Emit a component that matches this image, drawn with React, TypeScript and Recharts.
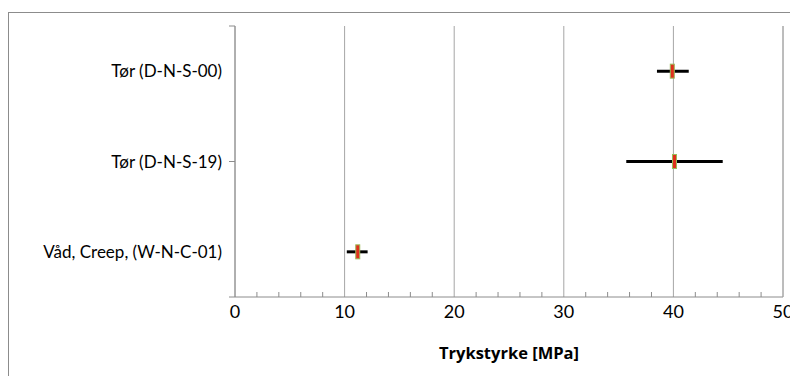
import React from "react";
import {
  ComposedChart,
  Scatter,
  ErrorBar,
  XAxis,
  YAxis,
  CartesianGrid,
} from "recharts";

const categories = ["Tør (D-N-S-00)", "Tør (D-N-S-19)", "Våd, Creep, (W-N-C-01)"];
const means = [39.9, 40.1, 11.2];
const lows = [38.5, 35.7, 10.2];
const highs = [41.4, 44.5, 12.1];

const majorTicks = [0, 10, 20, 30, 40, 50];
const minorTicks = [0, 2, 4, 6, 8, 10, 12, 14, 16, 18, 20, 22, 24, 26, 28, 30, 32, 34, 36, 38, 40, 42, 44, 46, 48, 50];
const bandTicks = [0, 1, 2, 3];

const data = categories.map((name, i) => ({
  name,
  mean: means[i],
  err: [means[i] - lows[i], highs[i] - means[i]],
}));

const axisColor = "#8c8c8c";
const gridColor = "#a6a6a6";
const labelMargin = 8;

function Marker(props: any) {
  const { cx, cy } = props;
  if (cx == null || cy == null) return null;
  return (
    <rect
      x={cx - 2}
      y={cy - 7}
      width={4}
      height={14}
      fill="#e0301e"
      stroke="#9bbb59"
      strokeWidth={1}
    />
  );
}

// minor tick pointing up into the plot, label only on the major values
function XTick(props: any) {
  const { x, y, payload } = props;
  const axisY = y - labelMargin;
  const isMajor = majorTicks.includes(payload.value);
  return (
    <g>
      {!isMajor && (
        <line x1={x} x2={x} y1={axisY} y2={axisY - 5} stroke={axisColor} />
      )}
      {isMajor && (
        <text x={x} y={y} dy="0.71em" textAnchor="middle" fill="#000" fontSize={18}>
          {payload.value}
        </text>
      )}
    </g>
  );
}

const EmptyTick = () => <g />;

export default function App() {
  return (
    <div
      style={{
        position: "fixed",
        left: 0,
        top: 0,
        width: 790,
        height: 376,
        overflow: "hidden",
        background: "#fff",
        fontFamily: "Lato, 'Open Sans', sans-serif",
      }}
    >
      <div
        style={{
          position: "absolute",
          left: 8,
          top: 12,
          width: 800,
          height: 400,
          borderTop: `1px solid ${axisColor}`,
          borderLeft: `1px solid ${axisColor}`,
        }}
      />
      <div style={{ position: "absolute", left: 9, top: 13 }}>
        <ComposedChart
          width={800}
          height={363}
          data={data}
          layout="vertical"
          margin={{ top: 13, right: 25, left: 0, bottom: 0 }}
        >
          <CartesianGrid horizontal={false} stroke={gridColor} verticalValues={majorTicks} />
          <XAxis
            type="number"
            dataKey="mean"
            domain={[0, 50]}
            ticks={minorTicks}
            interval={0}
            height={79}
            tickLine={false}
            tickSize={0}
            tickMargin={labelMargin}
            axisLine={{ stroke: axisColor }}
            tick={XTick}
            label={{
              value: "Trykstyrke [MPa]",
              position: "insideBottom",
              offset: 17,
              style: {
                fill: "#000",
                fontSize: 16.5,
                fontWeight: "bold",
                fontFamily: "'Open Sans', sans-serif",
              },
            }}
          />
          <YAxis
            yAxisId="band"
            type="number"
            domain={[0, 3]}
            ticks={bandTicks}
            interval={0}
            width={10}
            tickSize={6}
            tickLine={{ stroke: axisColor }}
            axisLine={{ stroke: axisColor }}
            tick={EmptyTick}
          />
          <YAxis
            yAxisId="edge"
            orientation="right"
            type="number"
            domain={[0, 3]}
            ticks={bandTicks}
            width={1}
            tickLine={false}
            axisLine={{ stroke: gridColor }}
            tick={EmptyTick}
          />
          <YAxis
            yAxisId="cat"
            type="category"
            scale="band"
            dataKey="name"
            width={216}
            tickLine={false}
            axisLine={false}
            tickSize={0}
            tickMargin={3}
            interval={0}
            tick={{ fill: "#000", fontSize: 17 }}
          />
          <Scatter
            yAxisId="cat"
            dataKey="mean"
            shape={<Marker />}
            isAnimationActive={false}
          >
            <ErrorBar
              dataKey="err"
              direction="x"
              width={0}
              stroke="#000"
              strokeWidth={3}
              isAnimationActive={false}
            />
          </Scatter>
        </ComposedChart>
      </div>
    </div>
  );
}
